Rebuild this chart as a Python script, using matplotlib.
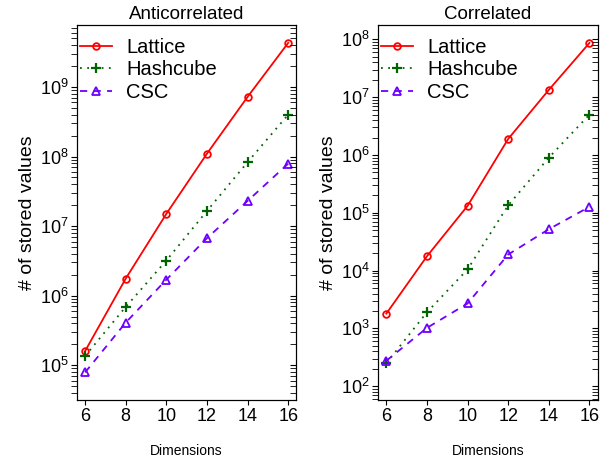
import matplotlib
matplotlib.use('Agg')
import matplotlib.pyplot as plt
from matplotlib.ticker import LogLocator, NullFormatter

plt.rcParams['font.family'] = ['Liberation Sans', 'DejaVu Sans']

dims = [6, 8, 10, 12, 14, 16]

# Anticorrelated
anti_lattice = [1.6e5, 1.76e6, 1.5e7, 1.1e8, 7.2e8, 4.3e9]
anti_hashcube = [1.36e5, 6.9e5, 3.2e6, 1.65e7, 8.3e7, 4.0e8]
anti_csc = [7.9e4, 4.1e5, 1.7e6, 6.7e6, 2.3e7, 7.9e7]

# Correlated
corr_lattice = [1.8e3, 1.77e4, 1.32e5, 1.9e6, 1.34e7, 8.7e7]
corr_hashcube = [2.5e2, 1.9e3, 1.05e4, 1.35e5, 9.0e5, 5.0e6]
corr_csc = [2.75e2, 1.02e3, 2.7e3, 1.9e4, 5.2e4, 1.27e5]

red = '#FF0000'
green = '#006400'
purple = '#6E00FF'

fig = plt.figure(figsize=(6.11, 4.63), dpi=100)
ax1 = fig.add_axes([0.126, 0.136, 0.359, 0.81])
ax2 = fig.add_axes([0.619, 0.136, 0.359, 0.81])

panels = [
    (ax1, 'Anticorrelated', anti_lattice, anti_hashcube, anti_csc, (10**4.50, 10**9.89)),
    (ax2, 'Correlated', corr_lattice, corr_hashcube, corr_csc, (10**1.76, 10**8.25)),
]

for ax, title, lat, hc, csc, ylim in panels:
    ax.plot(dims, lat, color=red, linestyle='-', linewidth=1.3, marker='o',
            markersize=4.8, markerfacecolor='none', markeredgewidth=1.3, label='Lattice')
    ax.plot(dims, hc, color=green, linestyle=(0, (1, 3)), linewidth=1.3, marker='+',
            markersize=7, markeredgewidth=1.6, label='Hashcube')
    ax.plot(dims, csc, color=purple, linestyle=(0, (4, 3.5)), linewidth=1.3, marker='^',
            markersize=5.5, markerfacecolor='none', markeredgewidth=1.3, label='CSC')
    ax.set_yscale('log')
    ax.set_xlim(5.6, 16.4)
    ax.set_ylim(*ylim)
    ax.set_xticks(dims)
    ax.yaxis.set_major_locator(LogLocator(base=10, numticks=20))
    ax.yaxis.set_minor_locator(LogLocator(base=10, subs=range(2, 10), numticks=20))
    ax.yaxis.set_minor_formatter(NullFormatter())
    ax.tick_params(axis='x', direction='out', length=3.5, labelsize=13, pad=2)
    ax.tick_params(axis='y', which='both', direction='out', length=4, labelsize=13, pad=2)
    ax.set_title(title, fontsize=13.5, pad=4)
    ax.set_xlabel('Dimensions', fontsize=10, labelpad=14)
    ax.set_ylabel('# of stored values', fontsize=14, labelpad=3)
    ax.legend(loc='upper left', bbox_to_anchor=(0.012, 0.966), frameon=False,
              fontsize=14.5, handlelength=1.6, handletextpad=0.7,
              labelspacing=0.18, borderaxespad=0, borderpad=0)

    # inward ticks on the right side
    tw = ax.twinx()
    tw.set_yscale('log')
    tw.set_ylim(*ylim)
    tw.yaxis.set_major_locator(LogLocator(base=10, numticks=20))
    tw.yaxis.set_minor_locator(LogLocator(base=10, subs=range(2, 10), numticks=20))
    tw.tick_params(axis='y', which='both', direction='in', length=4, labelright=False)

fig.savefig('out.png', dpi=100)
